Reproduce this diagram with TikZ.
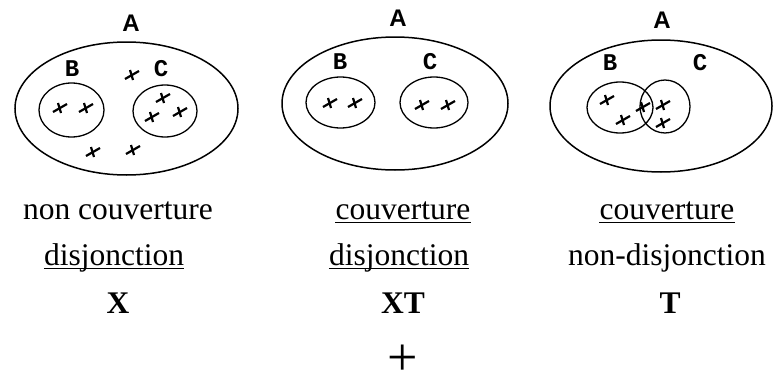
\documentclass[tikz,border=0pt]{standalone}
\usepackage{fontspec}
\setmainfont{Liberation Serif}
\newfontfamily\labA{Liberation Sans}
\newfontfamily\labBC{Liberation Mono}
\usetikzlibrary{shapes.geometric}
\tikzset{
  setA/.style={draw, ellipse, line width=1.5pt, inner sep=0pt},
  setS/.style={draw, ellipse, line width=1.3pt, inner sep=0pt},
  nameA/.style={font=\labA\bfseries\fontsize{24}{24}\selectfont, inner sep=0pt},
  nameBC/.style={font=\labBC\bfseries\fontsize{24}{24}\selectfont, inner sep=0pt},
  caption/.style={font=\fontsize{31.5}{32}\selectfont, inner sep=0pt, anchor=base},
  bcaption/.style={font=\bfseries\fontsize{31.5}{32}\selectfont, inner sep=0pt, anchor=base},
  uline/.style={line width=1.6pt},
  xmark/.pic={\draw[line width=2.2pt] (-7,4)--(7,-4); \draw[line width=2.2pt] (-2,-5)--(1,5);}
}
\begin{document}
\begin{tikzpicture}[x=1pt,y=-1pt]
\useasboundingbox (0,0) rectangle (773,380);
% ---------- panel 1 ----------
\node[nameA] (A1) at (131,23.5) {A};
\node[setA, minimum width=223pt, minimum height=133pt] (E1) at (126.5,108.5) {};
\node[nameBC] (B1) at (72,69) {B};
\node[nameBC] (C1) at (161,69) {C};
\node[setS, minimum width=65pt, minimum height=54pt] (SB1) at (71.5,110) {};
\node[setS, minimum width=64pt, minimum height=52pt] (SC1) at (165,111) {};
\pic at (60,108) {xmark};
\pic at (86,108) {xmark};
\pic at (132,75) {xmark};
\pic at (163,98) {xmark};
\pic at (180,112) {xmark};
\pic at (152,117) {xmark};
\pic at (93,152) {xmark};
\pic at (133,150) {xmark};
% ---------- panel 2 ----------
\node[nameA] (A2) at (398,18) {A};
\node[setA, minimum width=226pt, minimum height=133pt] (E2) at (395,103.5) {};
\node[nameBC] (B2) at (340,62) {B};
\node[nameBC] (C2) at (430,62) {C};
\node[setS, minimum width=69pt, minimum height=51pt] (SB2) at (340.5,102.5) {};
\node[setS, minimum width=68pt, minimum height=51pt] (SC2) at (434,102.5) {};
\pic at (330,103) {xmark};
\pic at (355,103) {xmark};
\pic at (422,105) {xmark};
\pic at (448,105) {xmark};
% ---------- panel 3 ----------
\node[nameA] (A3) at (662,20) {A};
\node[setA, minimum width=222pt, minimum height=132pt] (E3) at (661,106) {};
\node[nameBC] (B3) at (610,63) {B};
\node[nameBC] (C3) at (700,63) {C};
\node[setS, minimum width=66pt, minimum height=51pt] (SB3) at (620,107.5) {};
\node[setS, minimum width=50pt, minimum height=53pt] (SC3) at (665,106.5) {};
\pic at (607,100) {xmark};
\pic at (643,107) {xmark};
\pic at (663,105) {xmark};
\pic at (623,120) {xmark};
\pic at (663,123) {xmark};
% ---------- captions ----------
\node[caption] (t11) at (118,219) {non couverture};
\node[caption] (t12) at (114,265) {disjonction};
\node[bcaption] (t13) at (118,313) {X};
\node[caption] (t21) at (403,219) {couverture};
\node[caption] (t22) at (399,265) {disjonction};
\node[bcaption] (t23) at (403,313) {XT};
\node[caption] (t31) at (667,219) {couverture};
\node[caption] (t32) at (667,265) {non-disjonction};
\node[bcaption] (t33) at (670,313) {T};
\node[font=\fontsize{54}{54}\selectfont, inner sep=0pt, anchor=base] (plus) at (403,375) {+};
\draw[uline] ([yshift=-3.5pt]t12.base west) -- ([yshift=-3.5pt]t12.base east);
\draw[uline] ([yshift=-3.5pt]t21.base west) -- ([yshift=-3.5pt]t21.base east);
\draw[uline] ([yshift=-3.5pt]t22.base west) -- ([yshift=-3.5pt]t22.base east);
\draw[uline] ([yshift=-3.5pt]t31.base west) -- ([yshift=-3.5pt]t31.base east);
\end{tikzpicture}
\end{document}
